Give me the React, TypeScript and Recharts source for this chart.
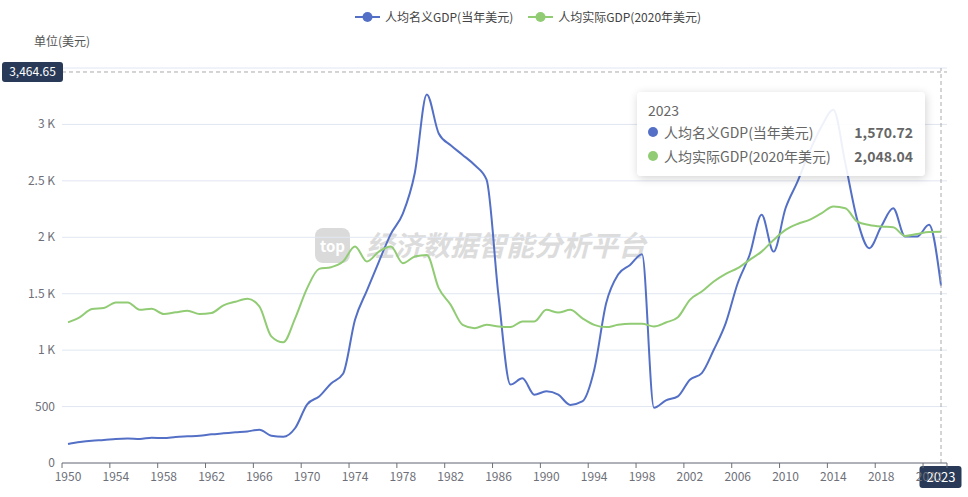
import { LineChart, Line, XAxis, YAxis, CartesianGrid, ReferenceLine, Tooltip } from "recharts";

const years = Array.from({ length: 74 }, (_, i) => String(1950 + i));

// 人均名义GDP(当年美元)
const nominal = [
  168, 186, 198, 204, 213, 216, 213, 224, 221, 230,
  236, 242, 254, 263, 272, 280, 295, 242, 232, 310,
  520, 590, 705, 790, 1270, 1530, 1785, 2030, 2210, 2570,
  3265, 2920, 2815, 2730, 2640, 2510, 1480, 695, 750, 605,
  635, 605, 515, 545, 825, 1415, 1670, 1755, 1850, 490,
  555, 590, 738, 797, 1003, 1240, 1593, 1845, 2200, 1873,
  2257, 2493, 2758, 2980, 3130, 2655, 2154, 1903, 2095, 2257,
  2006, 2006, 2110, 1570.72,
];

// 人均实际GDP(2020年美元)
const real = [
  1246, 1293, 1364, 1373, 1423, 1423, 1358, 1367, 1320, 1335,
  1350, 1320, 1329, 1397, 1429, 1456, 1388, 1122, 1069, 1284,
  1550, 1720, 1735, 1785, 1918, 1785, 1873, 1918, 1770, 1829,
  1844, 1549, 1401, 1224, 1195, 1224, 1210, 1204, 1254, 1254,
  1357, 1333, 1357, 1283, 1224, 1204, 1224, 1233, 1233, 1210,
  1245, 1292, 1446, 1519, 1608, 1676, 1726, 1800, 1873, 1976,
  2065, 2118, 2154, 2212, 2272, 2257, 2139, 2109, 2095, 2089,
  2012, 2030, 2047, 2048.04,
];

const yTicks = [0, 500, 1000, 1500, 2000, 2500, 3000, 3500];
const pointerValue = 3464.65;
const pointerYear = "2023";
// labelled every 4 years, plus the last category for the closing tick mark
const xTicks = years.filter((_, i) => i % 4 === 0).concat(pointerYear);

const NOMINAL_NAME = "人均名义GDP(当年美元)";
const REAL_NAME = "人均实际GDP(2020年美元)";
const BLUE = "#5470c6";
const GREEN = "#91cc75";
const AXIS = "#6e7079";
const FONT = "'Noto Sans CJK SC', 'Noto Sans', sans-serif";

const data = years.map((year, i) => ({ year, nominal: nominal[i], real: real[i] }));

const PLOT_BOTTOM = 463;
const HALF_STEP = 873 / 73 / 2;

const fmtY = (v: number) => (v === 0 ? "0" : v < 1000 ? String(v) : `${v / 1000} K`);
const fmtNum = (v: number) =>
  v.toLocaleString("en-US", { minimumFractionDigits: 2, maximumFractionDigits: 2 });

const XTick = (props: any) => {
  const { x, payload } = props;
  const isLast = payload.value === years[years.length - 1];
  const tx = isLast ? x + HALF_STEP : x - HALF_STEP;
  return (
    <g>
      <line x1={tx} x2={tx} y1={PLOT_BOTTOM} y2={PLOT_BOTTOM + 5} stroke={AXIS} />
      {!isLast && (
        <text x={x} y={PLOT_BOTTOM + 18} textAnchor="middle" fill={AXIS} fontSize={12} fontFamily={FONT}>
          {payload.value}
        </text>
      )}
    </g>
  );
};

const YTick = (props: any) => {
  const { y, payload } = props;
  // the top label sits under the axis-pointer badge
  if (payload.value === yTicks[yTicks.length - 1]) return null;
  return (
    <text x={55} y={y} dy={4} textAnchor="end" fill={AXIS} fontSize={12} fontFamily={FONT}>
      {fmtY(payload.value)}
    </text>
  );
};

const YPointerLabel = (props: any) => {
  const { viewBox } = props;
  const left = viewBox.x - 60;
  return (
    <g>
      <rect x={left} y={viewBox.y - 10} width={61} height={20} rx={3} fill="#283a57" />
      <text x={left + 30.5} y={viewBox.y + 4} textAnchor="middle" fill="#fff" fontSize={12} fontFamily={FONT}>
        {fmtNum(pointerValue)}
      </text>
    </g>
  );
};

const XPointerLabel = (props: any) => {
  const { viewBox } = props;
  const bottom = viewBox.y + viewBox.height;
  return (
    <g>
      <rect x={viewBox.x - 21.5} y={bottom + 3} width={42} height={22} rx={3} fill="#283a57" />
      <text x={viewBox.x} y={bottom + 19} textAnchor="middle" fill="#fff" fontSize={13} fontFamily={FONT}>
        {pointerYear}
      </text>
    </g>
  );
};

const TipContent = (props: any) => {
  const { label, payload } = props;
  if (!payload || !payload.length) return null;
  return (
    <div
      style={{
        width: 288,
        height: 84,
        boxSizing: "border-box",
        padding: "8px 12px 0 11px",
        background: "rgba(255,255,255,0.9)",
        borderRadius: 4,
        boxShadow: "1px 2px 10px rgba(0,0,0,0.18)",
        fontFamily: FONT,
        color: "#666",
        fontSize: 14,
      }}
    >
      <div style={{ lineHeight: "20px" }}>{label}</div>
      {payload.map((p: any) => (
        <div key={p.dataKey} style={{ display: "flex", alignItems: "center", lineHeight: "24px" }}>
          <span
            style={{ width: 10, height: 10, borderRadius: 5, background: p.color, marginRight: 6, display: "inline-block" }}
          />
          <span style={{ flex: 1 }}>{p.name}</span>
          <span style={{ fontWeight: 700 }}>{fmtNum(p.value)}</span>
        </div>
      ))}
    </div>
  );
};

const LegendItem = ({ color, name }: { color: string; name: string }) => (
  <div style={{ display: "flex", alignItems: "center", marginRight: 15 }}>
    <svg width={25} height={14} style={{ marginRight: 5 }}>
      <line x1={0} x2={25} y1={7} y2={7} stroke={color} strokeWidth={2} />
      <circle cx={12.5} cy={7} r={5} fill={color} />
    </svg>
    <span>{name}</span>
  </div>
);

export default function App() {
  return (
    <div style={{ position: "absolute", left: 0, top: 0, width: 968, height: 497, background: "#fff", fontFamily: FONT }}>
      {/* watermark */}
      <div
        style={{
          position: "absolute",
          left: 315,
          top: 228,
          width: 35,
          height: 35,
          borderRadius: 8,
          background: "#dadada",
          color: "#fff",
          fontSize: 15,
          fontWeight: 700,
          lineHeight: "35px",
          textAlign: "center",
        }}
      >
        top
      </div>
      <div
        style={{
          position: "absolute",
          left: 366,
          top: 226,
          fontSize: 28,
          lineHeight: "36px",
          fontWeight: 700,
          fontStyle: "italic",
          color: "#dcdcdc",
          whiteSpace: "nowrap",
        }}
      >
        经济数据智能分析平台
      </div>

      <div style={{ position: "absolute", left: 0, top: 0 }}>
        <LineChart width={968} height={497} data={data} margin={{ top: 68, right: 21, bottom: 4, left: 0 }}>
          <CartesianGrid vertical={false} stroke="#e0e6f1" />
          <XAxis
            dataKey="year"
            ticks={xTicks}
            interval={0}
            padding={{ left: 6, right: 6 }}
            height={30}
            tickLine={false}
            axisLine={{ stroke: AXIS }}
            tick={<XTick />}
          />
          <YAxis
            width={62}
            domain={[0, 3500]}
            ticks={yTicks}
            axisLine={false}
            tickLine={false}
            tick={<YTick />}
          />
          <Line
            type="monotone"
            dataKey="nominal"
            name={NOMINAL_NAME}
            stroke={BLUE}
            strokeWidth={2}
            dot={false}
            activeDot={false}
            isAnimationActive={false}
          />
          <Line
            type="monotone"
            dataKey="real"
            name={REAL_NAME}
            stroke={GREEN}
            strokeWidth={2}
            dot={false}
            activeDot={false}
            isAnimationActive={false}
          />
          <ReferenceLine y={pointerValue} stroke="#aaa" strokeDasharray="4 3" label={<YPointerLabel />} />
          <ReferenceLine x={pointerYear} stroke="#aaa" strokeDasharray="4 3" label={<XPointerLabel />} />
          <Tooltip
            defaultIndex={73}
            active
            cursor={false}
            isAnimationActive={false}
            position={{ x: 637, y: 92 }}
            content={<TipContent />}
            wrapperStyle={{ outline: "none" }}
          />
        </LineChart>
      </div>

      {/* legend */}
      <div
        style={{
          position: "absolute",
          top: 10,
          left: 355,
          display: "flex",
          fontSize: 12,
          lineHeight: "14px",
          color: "#444",
        }}
      >
        <LegendItem color={BLUE} name={NOMINAL_NAME} />
        <LegendItem color={GREEN} name={REAL_NAME} />
      </div>

      <div style={{ position: "absolute", left: 34, top: 33, fontSize: 12, lineHeight: "16px", color: "#555" }}>
        单位(美元)
      </div>
    </div>
  );
}
